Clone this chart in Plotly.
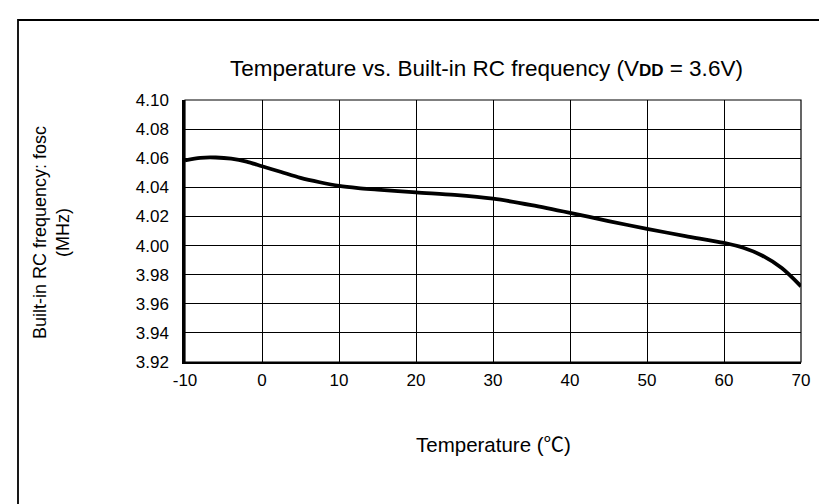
import plotly.graph_objects as go

temperature = [-10, -8, -6, -4, -2, 0, 2.5, 5, 7.5, 10, 12.5, 15, 20, 25, 30, 35, 40, 45, 50, 55, 60, 62.5, 65, 67.5, 70]
fosc = [4.0585, 4.0603, 4.0605, 4.0597, 4.0577, 4.0545, 4.0505, 4.0465, 4.0435, 4.0410, 4.0395, 4.0385, 4.0365, 4.0348, 4.0322, 4.0278, 4.0225, 4.0168, 4.0115, 4.0065, 4.0018, 3.9985, 3.9930, 3.9845, 3.9720]
x_ticks = [-10, 0, 10, 20, 30, 40, 50, 60, 70]
y_ticks = [3.92, 3.94, 3.96, 3.98, 4.00, 4.02, 4.04, 4.06, 4.08, 4.10]

FONT = "Liberation Sans, Arial, sans-serif"
W, H = 827, 504
L, R, T, B = 177, 793, 92, 354
pw, ph = R - L, B - T

def px(xp):
    return (xp - L) / pw

def py(yp):
    return (B - yp) / ph

fig = go.Figure()
fig.add_trace(go.Scatter(
    x=temperature, y=fosc, mode="lines",
    line=dict(color="black", width=3.8, shape="spline", smoothing=0.8),
    hoverinfo="skip", showlegend=False,
))

fig.update_layout(
    width=W, height=H,
    margin=dict(l=L, r=W - R, t=T, b=H - B, pad=0),
    paper_bgcolor="white", plot_bgcolor="white",
    font=dict(family=FONT, size=17, color="black"),
    showlegend=False,
    xaxis=dict(
        range=[-10, 70], tickvals=x_ticks, ticktext=[str(v) for v in x_ticks],
        showgrid=True, gridcolor="black", gridwidth=1,
        showline=True, linecolor="black", linewidth=2, mirror=False,
        ticks="", zeroline=False, ticklabelstandoff=2,
        tickfont=dict(family=FONT, size=17),
    ),
    yaxis=dict(
        range=[3.92, 4.10], tickvals=y_ticks, ticktext=[f"{v:.2f}" for v in y_ticks],
        showgrid=True, gridcolor="black", gridwidth=1,
        showline=True, linecolor="black", linewidth=2.5, mirror=False,
        ticks="", zeroline=False, ticklabelstandoff=10,
        tickfont=dict(family=FONT, size=17),
    ),
    shapes=[
        dict(type="rect", xref="paper", yref="paper", x0=0, x1=1, y0=0, y1=1,
             line=dict(color="black", width=1.2), layer="above"),
        dict(type="rect", xref="paper", yref="paper",
             x0=px(10), x1=px(W + 10), y0=py(H + 10), y1=py(12),
             line=dict(color="black", width=1.8)),
    ],
    annotations=[
        dict(text="Temperature vs. Built-in RC frequency (V<span style='font-size:17px'><b>DD</b></span> = 3.6V)",
             xref="paper", yref="paper", x=px(478), y=py(61), showarrow=False,
             xanchor="center", yanchor="middle", font=dict(family=FONT, size=22.5)),
        dict(text="Built-in RC frequency: fosc<br>(MHz)",
             xref="paper", yref="paper", x=px(43), y=py(225), showarrow=False,
             textangle=-90, xanchor="center", yanchor="middle",
             font=dict(family=FONT, size=18)),
        dict(text="Temperature (<span style='font-family:Noto Sans CJK SC'>℃</span>)",
             xref="paper", yref="paper", x=px(485), y=py(435), showarrow=False,
             xanchor="center", yanchor="middle", font=dict(family=FONT, size=20.5)),
    ],
)

fig.write_html("out.html")
